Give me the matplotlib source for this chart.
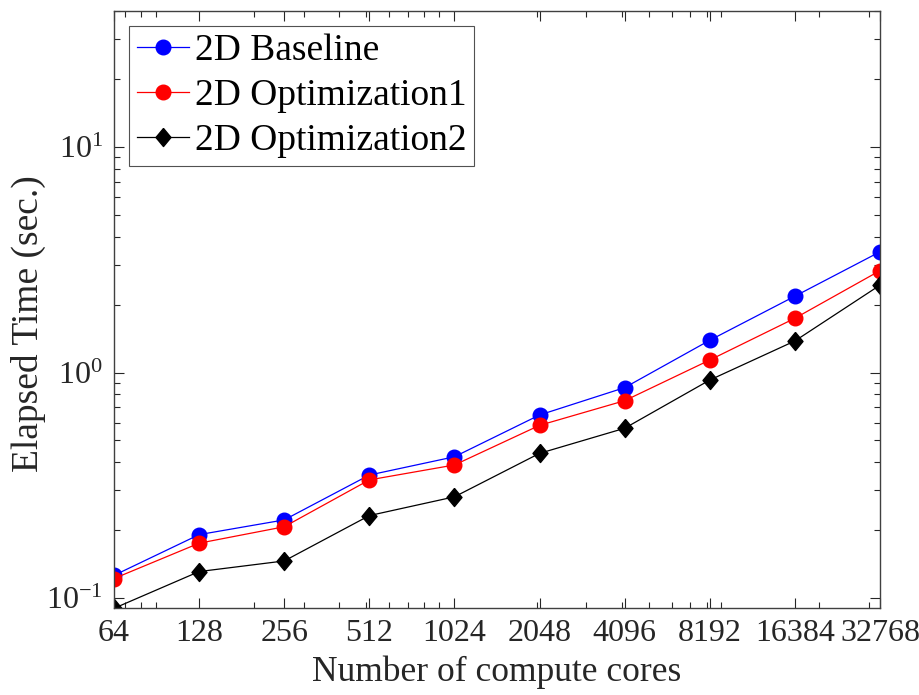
import matplotlib
matplotlib.use("Agg")
import matplotlib.pyplot as plt
from matplotlib.ticker import LogLocator, NullFormatter, FixedLocator, FixedFormatter

plt.rcParams['font.family'] = ['Liberation Serif', 'DejaVu Serif']
plt.rcParams['mathtext.fontset'] = 'custom'
plt.rcParams['mathtext.rm'] = 'Liberation Serif'
plt.rcParams['mathtext.it'] = 'Liberation Serif:italic'

cores = [64, 128, 256, 512, 1024, 2048, 4096, 8192, 16384, 32768]
core_labels = ['64', '128', '256', '512', '1024', '2048', '4096', '8192', '16384', '32768']
baseline = [0.126, 0.191, 0.222, 0.351, 0.423, 0.648, 0.857, 1.39, 2.18, 3.43]
opt1 = [0.122, 0.175, 0.207, 0.334, 0.389, 0.583, 0.750, 1.136, 1.74, 2.83]
opt2 = [0.090, 0.131, 0.146, 0.232, 0.281, 0.438, 0.566, 0.926, 1.38, 2.44]

# diamond slightly taller than wide
diamond = [(0, 1), (0.83, 0), (0, -1), (-0.83, 0), (0, 1)]

fig = plt.figure(figsize=(9.2, 6.95), dpi=100)
ax = fig.add_axes([114/920, 1 - 608/695, (880-114)/920, (608-11)/695])

ax.plot(cores, baseline, '-o', color='#0000ff', lw=0.9, ms=10.5, label='2D Baseline')
ax.plot(cores, opt1, '-o', color='#ff0000', lw=0.9, ms=10.5, label='2D Optimization1')
ax.plot(cores, opt2, '-', marker=diamond, color='black', lw=0.9, ms=13, label='2D Optimization2')

ax.set_xscale('log')
ax.set_yscale('log')
ax.set_xlim(64, 32768)
ax.set_ylim(0.0903, 40.1)

ax.xaxis.set_major_locator(FixedLocator(cores))
ax.xaxis.set_major_formatter(FixedFormatter(core_labels))
ax.xaxis.set_minor_locator(LogLocator(base=10, subs=range(2, 10)))
ax.xaxis.set_minor_formatter(NullFormatter())
ax.yaxis.set_major_locator(LogLocator(base=10, numticks=10))
ax.yaxis.set_minor_locator(LogLocator(base=10, subs=range(2, 10), numticks=10))
ax.yaxis.set_minor_formatter(NullFormatter())

tick_color = '#262626'
ax.tick_params(which='both', direction='in', top=True, right=True, colors=tick_color,
               labelsize=23, width=0.8)
ax.tick_params(which='major', length=7, pad=8)
ax.tick_params(which='minor', length=4)
for sp in ax.spines.values():
    sp.set_color('#404040')
    sp.set_linewidth(1.0)

ax.set_xlabel('Number of compute cores', fontsize=25.5, color=tick_color, va='top')
ax.xaxis.set_label_coords(0.5, -0.080)
ax.set_ylabel('Elapsed Time (sec.)', fontsize=27, color=tick_color, va='center')
ax.yaxis.set_label_coords(-0.112, 0.476)

leg = ax.legend(loc='upper left', fontsize=27, frameon=True, fancybox=False,
                edgecolor='#262626', handlelength=1.4, handletextpad=0.15,
                borderpad=0.2, labelspacing=0.28, borderaxespad=0.4)
leg.get_frame().set_linewidth(0.8)

fig.savefig('out.png', dpi=100)
